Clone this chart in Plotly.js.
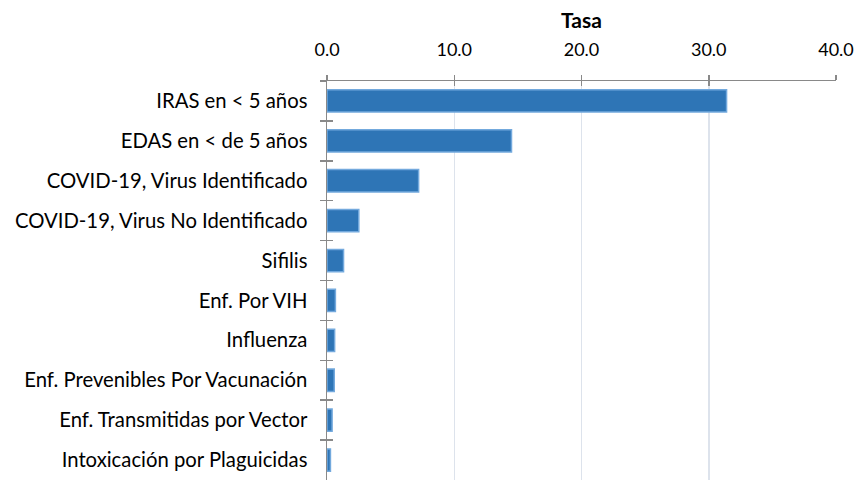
<!DOCTYPE html>
<html>
<head>
<meta charset="utf-8">
<script src="https://cdn.plot.ly/plotly-3.0.1.min.js"></script>
<style>html,body{margin:0;padding:0;background:#fff;}#chart{width:859px;height:481px;}</style>
</head>
<body>
<div id="chart"></div>
<script>
var categories = [
  "IRAS en < 5 años",
  "EDAS en < de 5 años",
  "COVID-19, Virus Identificado",
  "COVID-19, Virus No Identificado",
  "Sifilis",
  "Enf. Por VIH",
  "Influenza",
  "Enf. Prevenibles Por Vacunación",
  "Enf. Transmitidas por Vector",
  "Intoxicación por Plaguicidas"
];
var tasa = [31.4, 14.5, 7.2, 2.5, 1.3, 0.66, 0.6, 0.57, 0.4, 0.27];
var tickVals = [0, 10, 20, 30, 40];
var tickText = ["0.0", "10.0", "20.0", "30.0", "40.0"];

var FONT = "Lato, 'Open Sans', sans-serif";
var AXIS = "#898989";

var traces = [
  {
    type: "bar", orientation: "h",
    x: tasa, y: categories,
    marker: {color: "#2E75B6", line: {color: "#73A9DD", width: 1.5}},
    hoverinfo: "x+y"
  },
  {
    type: "bar", orientation: "h",
    x: tasa, y: categories,
    xaxis: "x2", yaxis: "y2",
    marker: {color: "rgba(0,0,0,0)"},
    hoverinfo: "skip", showlegend: false
  }
];

var layout = {
  width: 859, height: 481,
  margin: {l: 327, r: 23, t: 81, b: 1},
  paper_bgcolor: "#fff", plot_bgcolor: "#fff",
  showlegend: false,
  bargap: 0.44,
  font: {family: FONT, size: 20.3, color: "#000"},
  xaxis: {
    side: "top", range: [0, 40], tickvals: tickVals, ticktext: tickText,
    tickfont: {family: FONT, size: 18},
    showgrid: true, gridcolor: "#DDE3EC", gridwidth: 1.5,
    zeroline: false,
    showline: true, linecolor: AXIS, linewidth: 1.5,
    ticks: "outside", ticklen: 5, tickwidth: 1.5, tickcolor: AXIS,
    ticklabelstandoff: 11,
    title: {text: "<b>Tasa</b>", font: {family: FONT, size: 21}, standoff: 4},
    fixedrange: true
  },
  yaxis: {
    autorange: "reversed", type: "category",
    showgrid: false, zeroline: false,
    showline: true, linecolor: AXIS, linewidth: 1.5,
    ticks: "outside", tickson: "boundaries", ticklen: 6, tickwidth: 1.5, tickcolor: AXIS,
    ticklabelstandoff: 14,
    fixedrange: true
  },
  xaxis2: {
    overlaying: "x", side: "top", range: [0, 40], tickvals: tickVals,
    showticklabels: false, showgrid: false, zeroline: false, showline: false,
    ticks: "inside", ticklen: 5, tickwidth: 1.5, tickcolor: AXIS, fixedrange: true
  },
  yaxis2: {
    overlaying: "y", autorange: "reversed", type: "category",
    showticklabels: false, showgrid: false, zeroline: false, showline: false,
    ticks: "inside", tickson: "boundaries", ticklen: 6, tickwidth: 1.5, tickcolor: AXIS,
    fixedrange: true
  }
};

Plotly.newPlot("chart", traces, layout, {displayModeBar: false, staticPlot: true});
</script>
</body>
</html>
